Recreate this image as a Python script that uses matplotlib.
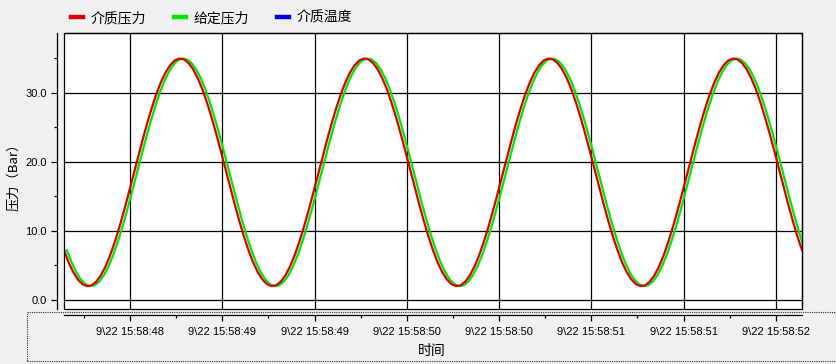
import matplotlib
matplotlib.use("Agg")
import matplotlib.pyplot as plt
from matplotlib.patches import Rectangle
from matplotlib.ticker import FixedLocator

plt.rcParams['font.family'] = ['Liberation Sans', 'DejaVu Sans']

# ---- data ----
time_s = [i * 0.025 for i in range(161)]  # seconds from left edge of plot
medium_pressure = [
    7.20, 5.46, 4.04, 2.98, 2.29, 2.01, 2.13, 2.66, 3.57, 4.85, 6.47, 8.39, 10.55, 12.91, 15.41, 17.98, 20.57, 23.10, 25.53, 27.77,
    29.80, 31.54, 32.96, 34.02, 34.71, 34.99, 34.87, 34.34, 33.43, 32.15, 30.53, 28.61, 26.45, 24.09, 21.59, 19.02, 16.43, 13.90, 11.47, 9.23,
    7.20, 5.46, 4.04, 2.98, 2.29, 2.01, 2.13, 2.66, 3.57, 4.85, 6.47, 8.39, 10.55, 12.91, 15.41, 17.98, 20.57, 23.10, 25.53, 27.77,
    29.80, 31.54, 32.96, 34.02, 34.71, 34.99, 34.87, 34.34, 33.43, 32.15, 30.53, 28.61, 26.45, 24.09, 21.59, 19.02, 16.43, 13.90, 11.47, 9.23,
    7.20, 5.46, 4.04, 2.98, 2.29, 2.01, 2.13, 2.66, 3.57, 4.85, 6.47, 8.39, 10.55, 12.91, 15.41, 17.98, 20.57, 23.10, 25.53, 27.77,
    29.80, 31.54, 32.96, 34.02, 34.71, 34.99, 34.87, 34.34, 33.43, 32.15, 30.53, 28.61, 26.45, 24.09, 21.59, 19.02, 16.43, 13.90, 11.47, 9.23,
    7.20, 5.46, 4.04, 2.98, 2.29, 2.01, 2.13, 2.66, 3.57, 4.85, 6.47, 8.39, 10.55, 12.91, 15.41, 17.98, 20.57, 23.10, 25.53, 27.77,
    29.80, 31.54, 32.96, 34.02, 34.71, 34.99, 34.87, 34.34, 33.43, 32.15, 30.53, 28.61, 26.45, 24.09, 21.59, 19.02, 16.43, 13.90, 11.47, 9.23,
    7.20,
]
setpoint_lag_s = 0.016
setpoint_time_s = [t + setpoint_lag_s for t in time_s]
setpoint_pressure = list(medium_pressure)
medium_temp_time = []
medium_temp = []

xtick_pos = [0.358 + 0.5 * k for k in range(8)]
xtick_labels = ['9\\22 15:58:48', '9\\22 15:58:49', '9\\22 15:58:49', '9\\22 15:58:50',
                '9\\22 15:58:50', '9\\22 15:58:51', '9\\22 15:58:51', '9\\22 15:58:52']
xminor_pos = [0.108 + 0.5 * k for k in range(8)]
ytick_pos = [0, 10, 20, 30]
ytick_labels = ['0.0', '10.0', '20.0', '30.0']
yminor_pos = [5, 15, 25, 35]

series_labels = ['介质压力', '给定压力', '介质温度']

# ---- figure ----
W, H = 836, 364
fig = plt.figure(figsize=(W / 100, H / 100), dpi=100, facecolor='#f0f0f0')
ax = fig.add_axes([64 / W, 1 - 309.3 / H, (802 - 64) / W, (309.3 - 33.3) / H])
ax.set_facecolor('white')

ax.plot(setpoint_time_s, setpoint_pressure, color='#00e600', lw=1.6, label=series_labels[1], zorder=3)
ax.plot(time_s, medium_pressure, color='#dd0000', lw=1.6, label=series_labels[0], zorder=4)
ax.plot(medium_temp_time, medium_temp, color='#0000dd', lw=1.6, label=series_labels[2])

ax.set_xlim(0, 4.0)
ax.set_ylim(-1.35, 38.65)

ax.xaxis.set_major_locator(FixedLocator(xtick_pos))
ax.set_xticklabels(xtick_labels)
ax.xaxis.set_minor_locator(FixedLocator(xminor_pos))
ax.yaxis.set_major_locator(FixedLocator(ytick_pos))
ax.set_yticklabels(ytick_labels)
ax.yaxis.set_minor_locator(FixedLocator(yminor_pos))

ax.grid(True, which='major', color='black', lw=0.9)
ax.set_axisbelow(True)

ax.spines['left'].set_position(('outward', 5))
ax.spines['bottom'].set_position(('outward', 4))
for s in ax.spines.values():
    s.set_linewidth(0.9)

ax.tick_params(axis='both', which='major', direction='out', length=4.2, width=0.9,
               labelsize=8, pad=3.0, colors='black')
ax.tick_params(axis='x', which='major', length=4.6, pad=4.0)
ax.tick_params(axis='both', which='minor', direction='out', length=2.5, width=0.9)

ax.add_patch(Rectangle((0, 0), 1, 1, transform=ax.transAxes, fill=False,
                       ec='black', lw=0.9, zorder=5, clip_on=False))

# dotted focus rectangle around the time axis
fig.add_artist(Rectangle((27 / W, 1 - 360.7 / H), (W + 5 - 27) / W, (360.7 - 311.7) / H,
                         transform=fig.transFigure, fill=False, ec='#333333',
                         lw=0.8, ls=(0, (1, 1)), zorder=0))

cjk = ['Noto Sans CJK SC', 'DejaVu Sans']
fig.text(432 / W, 1 - 351 / H, '时间', family=cjk, fontsize=10, ha='center', va='center')
fig.text(13.5 / W, 1 - 174 / H, '压力（Bar）', family=cjk, fontsize=9.5,
         rotation=90, ha='center', va='center')

handles, labels = ax.get_legend_handles_labels()
order = [labels.index(l) for l in series_labels]
leg = fig.legend([handles[i] for i in order], [labels[i] for i in order],
                 loc='center left', bbox_to_anchor=(71 / W, 1 - 18 / H),
                 ncol=3, frameon=False, borderpad=0, borderaxespad=0,
                 handlelength=0.86, handletextpad=0.55, columnspacing=2.0,
                 prop={'family': cjk, 'size': 10})
for lh in leg.get_lines():
    lh.set_linewidth(3.2)

fig.savefig('out.png', dpi=100, facecolor=fig.get_facecolor())
